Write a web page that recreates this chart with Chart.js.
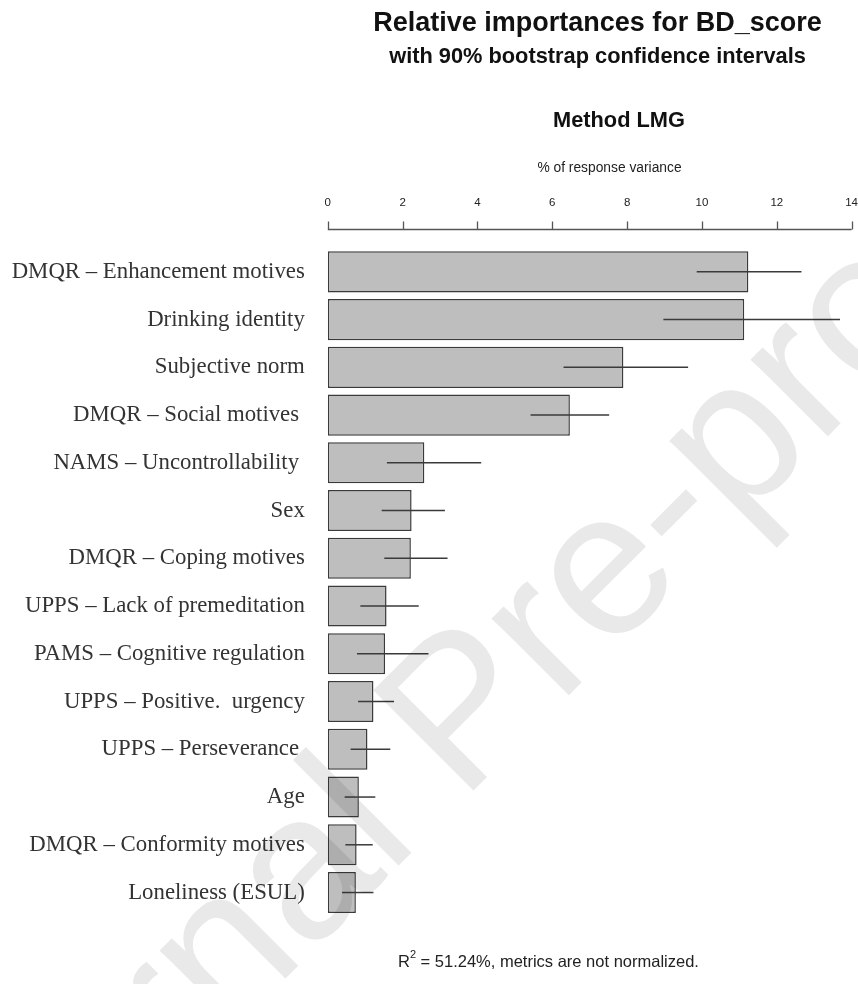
<!DOCTYPE html>
<html>
<head>
<meta charset="utf-8">
<title>Relative importances for BD_score</title>
<script src="https://cdn.jsdelivr.net/npm/chart.js@4.4.1/dist/chart.umd.min.js"></script>
<style>
  html, body { margin: 0; padding: 0; background: #fff; }
</style>
</head>
<body>
<canvas id="relimpChart" width="858" height="984"></canvas>
<script>
// predictors, top to bottom
const categories = [
  "DMQR \u2013 Enhancement motives",
  "Drinking identity",
  "Subjective norm",
  "DMQR \u2013 Social motives ",
  "NAMS \u2013 Uncontrollability ",
  "Sex",
  "DMQR \u2013 Coping motives",
  "UPPS \u2013 Lack of premeditation",
  "PAMS \u2013 Cognitive regulation",
  "UPPS \u2013 Positive.  urgency",
  "UPPS \u2013 Perseverance ",
  "Age",
  "DMQR \u2013 Conformity motives",
  "Loneliness (ESUL)"
];

// LMG, % of response variance
const importance = [11.24, 11.13, 7.90, 6.47, 2.58, 2.24, 2.22, 1.57, 1.53, 1.22, 1.06, 0.83, 0.77, 0.75];
// 90% bootstrap CI
const ciLower = [9.86, 8.97, 6.30, 5.42, 1.58, 1.44, 1.51, 0.87, 0.78, 0.81, 0.61, 0.45, 0.47, 0.38];
const ciUpper = [12.66, 13.69, 9.63, 7.52, 4.10, 3.13, 3.20, 2.43, 2.69, 1.77, 1.67, 1.27, 1.20, 1.22];

const xTicks = [0, 2, 4, 6, 8, 10, 12, 14];

const SANS = "Arial, 'Liberation Sans', sans-serif";
const SERIF = "'Liberation Serif', 'Times New Roman', serif";

Chart.defaults.font.family = SANS;

// CI lines across each bar
const errorBars = {
  id: "errorBars",
  afterDatasetsDraw(chart) {
    const ctx = chart.ctx;
    const x = chart.scales.x;
    const bars = chart.getDatasetMeta(0).data;
    ctx.save();
    ctx.strokeStyle = "#3a3a3a";
    ctx.lineWidth = 1.5;
    bars.forEach((bar, i) => {
      ctx.beginPath();
      ctx.moveTo(x.getPixelForValue(ciLower[i]), bar.y);
      ctx.lineTo(x.getPixelForValue(ciUpper[i]), bar.y);
      ctx.stroke();
    });
    ctx.restore();
  }
};

// R style axis line sitting a little above the plot, ticks pointing up
const topAxis = {
  id: "topAxis",
  afterDraw(chart) {
    const ctx = chart.ctx;
    const x = chart.scales.x;
    const y0 = chart.chartArea.top - 18.5;
    ctx.save();
    ctx.strokeStyle = "#555";
    ctx.lineWidth = 1.3;
    ctx.beginPath();
    ctx.moveTo(x.getPixelForValue(xTicks[0]), y0);
    ctx.lineTo(x.getPixelForValue(xTicks[xTicks.length - 1]), y0);
    xTicks.forEach((t) => {
      const px = Math.round(x.getPixelForValue(t)) + 0.5;
      ctx.moveTo(px, y0);
      ctx.lineTo(px, y0 - 8);
    });
    ctx.stroke();
    ctx.restore();
  }
};

// titles, axis title, footnote
const texts = {
  id: "texts",
  afterDraw(chart) {
    const ctx = chart.ctx;
    ctx.save();
    ctx.fillStyle = "#111";
    ctx.textAlign = "center";
    ctx.textBaseline = "alphabetic";
    ctx.font = "bold 27px " + SANS;
    ctx.fillText("Relative importances for BD_score", 597.5, 31);
    ctx.font = "bold 21.8px " + SANS;
    ctx.fillText("with 90% bootstrap confidence intervals", 597.5, 63);
    ctx.font = "bold 21.8px " + SANS;
    ctx.fillText("Method LMG", 619, 126.5);
    ctx.fillStyle = "#222";
    ctx.font = "13.8px " + SANS;
    ctx.fillText("% of response variance", 609.5, 171.5);

    // R^2 footnote
    ctx.font = "16.5px " + SANS;
    ctx.textAlign = "left";
    const a = "R", b = " = 51.24%, metrics are not normalized.";
    const wa = ctx.measureText(a).width;
    const total = wa + 6 + ctx.measureText(b).width;
    const sx = 548.5 - total / 2;
    ctx.fillText(a, sx, 967);
    ctx.font = "11px " + SANS;
    ctx.fillText("2", sx + wa, 958);
    ctx.font = "16.5px " + SANS;
    ctx.fillText(b, sx + wa + 6, 967);
    ctx.restore();
  }
};

// diagonal "Journal Pre-proof" stamp over the figure
const watermark = {
  id: "watermark",
  afterDraw(chart) {
    const ctx = chart.ctx;
    ctx.save();
    ctx.globalCompositeOperation = "multiply";
    ctx.fillStyle = "#e9e9e9";
    ctx.translate(506, 758);
    ctx.rotate(-Math.PI / 4);
    ctx.font = "206px " + SANS;
    ctx.textAlign = "center";
    ctx.fillText("Journal Pre-proof", 0, 0);
    ctx.restore();
  }
};

const ctx = document.getElementById("relimpChart").getContext("2d");
new Chart(ctx, {
  type: "bar",
  data: {
    labels: categories,
    datasets: [
      {
        label: "LMG",
        data: importance,
        backgroundColor: "#bebebe",
        borderColor: "#3a3a3a",
        borderWidth: 1.5,
        borderSkipped: false,
        barPercentage: 0.86,
        categoryPercentage: 1,
      },
    ],
  },
  options: {
    indexAxis: "y",
    responsive: false,
    animation: false,
    devicePixelRatio: 1,
    layout: { padding: { top: 0, right: 6.4, bottom: 67.6, left: 0 } },
    plugins: {
      legend: { display: false },
      tooltip: { enabled: false },
    },
    scales: {
      x: {
        position: "top",
        min: 0,
        max: 14,
        afterBuildTicks: (s) => { s.ticks = xTicks.map((v) => ({ value: v })); },
        ticks: { font: { size: 11.5 }, color: "#222", padding: 38, maxRotation: 0, autoSkip: false },
        grid: { display: false, drawTicks: false },
        border: { display: false },
        afterFit: (s) => { s.height = 248; s.paddingLeft = 0; s.paddingRight = 0; },
      },
      y: {
        ticks: { font: { family: SERIF, size: 22.8 }, color: "#333", padding: 23, autoSkip: false },
        grid: { display: false, drawTicks: false },
        border: { display: false },
        afterFit: (s) => { s.width = 327.8; s.paddingTop = 0; s.paddingBottom = 0; },
      },
    },
  },
  plugins: [errorBars, topAxis, texts, watermark],
});
</script>
</body>
</html>
